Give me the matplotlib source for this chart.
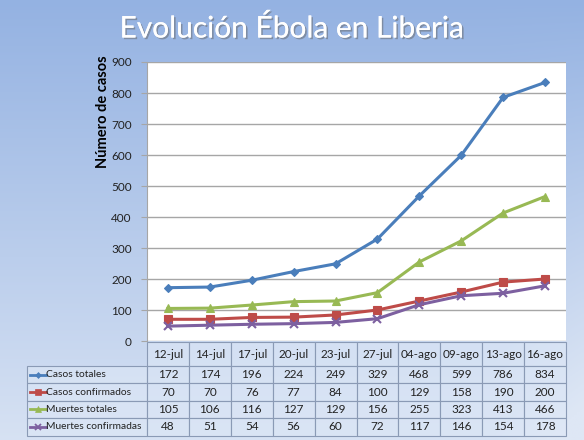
import numpy as np
import matplotlib
matplotlib.use('Agg')
import matplotlib.pyplot as plt
import matplotlib.patheffects as pe
from matplotlib.patches import Rectangle
from matplotlib.lines import Line2D

plt.rcParams['font.family'] = ['Lato', 'DejaVu Sans']

# Data
fechas = ['12-jul', '14-jul', '17-jul', '20-jul', '23-jul', '27-jul',
          '04-ago', '09-ago', '13-ago', '16-ago']
casos_totales = [172, 174, 196, 224, 249, 329, 468, 599, 786, 834]
casos_confirmados = [70, 70, 76, 77, 84, 100, 129, 158, 190, 200]
muertes_totales = [105, 106, 116, 127, 129, 156, 255, 323, 413, 466]
muertes_confirmadas = [48, 51, 54, 56, 60, 72, 117, 146, 154, 178]

series_names = ['Casos totales', 'Casos confirmados', 'Muertes totales', 'Muertes confirmadas']
series_vals = [casos_totales, casos_confirmados, muertes_totales, muertes_confirmadas]
colors = ['#4a7ebb', '#be4b48', '#98b954', '#7d60a0']
markers = ['D', 's', '^', 'x']
msizes = [4, 6, 6, 6]

W, H = 584, 440
fig = plt.figure(figsize=(W / 100, H / 100), dpi=100)

# background gradient
bg = fig.add_axes([0, 0, 1, 1], zorder=-10)
yy, xx = np.mgrid[0:1:200j, 0:1:200j]
top = np.array([148, 178, 226]) / 255
bot = np.array([222, 231, 245]) / 255
t = np.clip(yy * 0.9 + np.clip(xx - 0.85, 0, 1) * 1.2 * yy, 0, 1)[..., None]
img = top * (1 - t) + bot * t
bg.imshow(img, aspect='auto', extent=[0, 1, 0, 1], origin='upper')
bg.set_axis_off()

def fx(px):
    return px / W

def fy(py):
    return 1 - py / H

x0, x1 = 147, 566
y_top, y_zero = 62, 341
ax = fig.add_axes([fx(x0), fy(y_zero), fx(x1) - fx(x0), fy(y_top) - fy(y_zero)])
ax.set_facecolor('white')
x = np.arange(len(fechas))
for name, vals, c, m, ms in zip(series_names, series_vals, colors, markers, msizes):
    ax.plot(x, vals, color=c, lw=2.2, marker=m, ms=ms, mew=1.5 if m == 'x' else 0.8,
            mec=c, mfc=c, label=name, zorder=3)
ax.set_xlim(-0.5, len(fechas) - 0.5)
ax.set_ylim(0, 900)
ax.set_yticks(range(0, 901, 100))
ax.set_xticks([])
ax.yaxis.grid(True, color='#a6a6a6', lw=1)
ax.set_axisbelow(True)
for s in ['top', 'right', 'bottom']:
    ax.spines[s].set_visible(False)
ax.spines['left'].set_color('#a6a6a6')
ax.tick_params(axis='y', length=4, color='#a6a6a6', labelsize=8.5, labelcolor='#222222', pad=7)

fig.text(fx(103), fy(112), 'Número de casos', rotation=90, ha='center', va='center',
         fontsize=10.5, fontweight='bold', color='black')

# title
fig.text(0.5, fy(28), 'Evolución Ébola en Liberia', ha='center', va='center',
         fontsize=21.5, color='white', fontweight='normal',
         path_effects=[pe.withSimplePatchShadow(offset=(1.2, -1.2), shadow_rgbFace='#666666', alpha=0.5),
                       pe.Normal()])

# data table
col_w = (x1 - x0) / len(fechas)
hdr_top, hdr_bot = 342, 366
row_h = (435.5 - hdr_bot) / 4
lab_x0 = 27
edge = '#8a9ab5'
cell_fc = (0.87, 0.91, 0.97, 0.55)

def cell(px0, py0, pw, ph):
    fig.patches.append(Rectangle((fx(px0), fy(py0 + ph)), fx(pw), ph / H,
                                 transform=fig.transFigure, facecolor=cell_fc,
                                 edgecolor=edge, lw=0.8, zorder=1))

for i, f in enumerate(fechas):
    cx = x0 + i * col_w
    cell(cx, hdr_top, col_w, hdr_bot - hdr_top)
    fig.text(fx(cx + col_w / 2), fy((hdr_top + hdr_bot) / 2), f, ha='center', va='center',
             fontsize=8.5, color='#222222')

for r, (name, vals, c, m, ms) in enumerate(zip(series_names, series_vals, colors, markers, msizes)):
    ry = hdr_bot + r * row_h
    cell(lab_x0, ry, x0 - lab_x0, row_h)
    cy = fy(ry + row_h / 2)
    fig.lines.append(Line2D([fx(lab_x0 + 3), fx(lab_x0 + 19)], [cy, cy], transform=fig.transFigure,
                            color=c, lw=2))
    fig.lines.append(Line2D([fx(lab_x0 + 11)], [cy], transform=fig.transFigure,
                            color=c, marker=m, ms=ms - 1, mec=c, mfc=c, mew=1.3 if m == 'x' else 0.5))
    fig.text(fx(lab_x0 + 19.5), cy, name, ha='left', va='center', fontsize=7.4, color='#222222')
    for i, v in enumerate(vals):
        cx = x0 + i * col_w
        cell(cx, ry, col_w, row_h)
        fig.text(fx(cx + col_w / 2), cy, str(v), ha='center', va='center',
                 fontsize=8.5, color='#222222')

fig.savefig('out.png', dpi=100)
